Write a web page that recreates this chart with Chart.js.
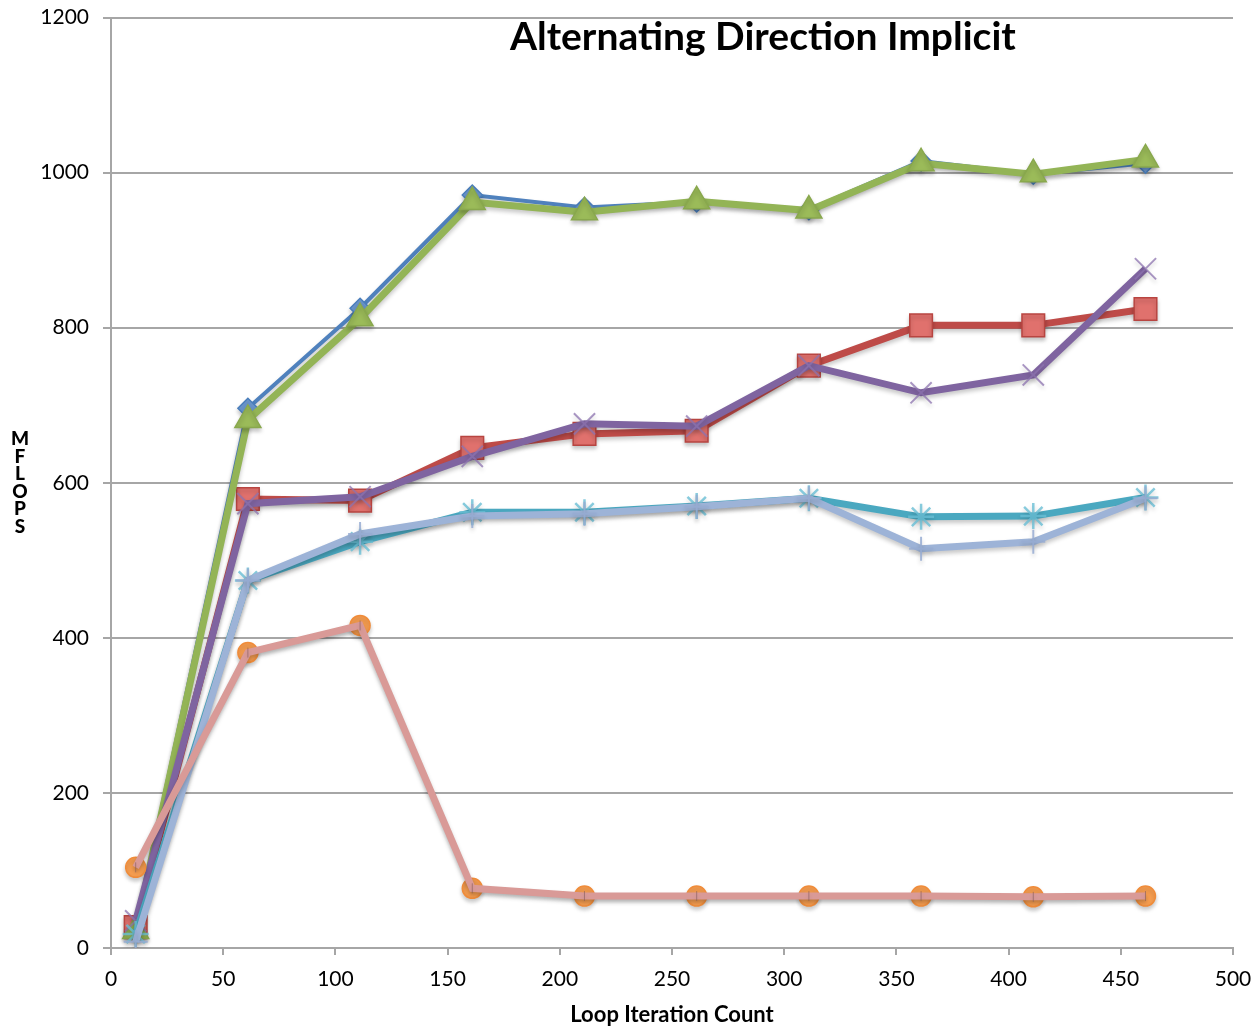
<!DOCTYPE html>
<html>
<head>
<meta charset="utf-8">
<title>Alternating Direction Implicit</title>
<script src="https://cdn.jsdelivr.net/npm/chart.js@4/dist/chart.umd.min.js"></script>
<style>
    html, body { margin: 0; padding: 0; background: #fff; }
    #wrap { width: 1257px; height: 1026px; }
</style>
</head>
<body>
<div id="wrap"><canvas id="adiChart" width="1257" height="1026"></canvas></div>
<script>
// loop iteration counts (x) and MFLOPS per run
const loopCounts = [11, 61, 111, 161, 211, 261, 311, 361, 411, 461];
const run1 = [25, 696, 825, 971, 955, 962, 952, 1015, 998, 1012];
const run2 = [27, 579, 577, 645, 663, 667, 751, 803, 803, 824];
const run3 = [22, 681, 812, 962, 949, 963, 951, 1012, 998, 1017];
const run4 = [35, 573, 582, 634, 676, 673, 751, 716, 739, 876];
const run5 = [18, 474, 524, 562, 562, 570, 580, 556, 557, 581];
const run6 = [104, 381, 416, 77, 67, 67, 67, 67, 66, 67];
const run7 = [8, 474, 534, 557, 560, 569, 580, 515, 524, 580];
const run8 = [104, 381, 416, 77, 67, 67, 67, 67, 66, 67];

const yTicks = [0, 200, 400, 600, 800, 1000, 1200];
const xTicks = [0, 50, 100, 150, 200, 250, 300, 350, 400, 450, 500];

const FONT = "Lato, 'Open Sans', sans-serif";
const AXIS_GREY = "#a6a6a6";

function series(label, values, line, opts) {
    return Object.assign({
        label: label,
        data: values.map((v, i) => ({ x: loopCounts[i], y: v })),
        borderColor: line,
        borderWidth: 7,
        fill: false,
        tension: 0,
        pointBorderWidth: 1.5
    }, opts);
}

const datasets = [
    series("Run 1", run1, "#4f81bd", { borderWidth: 4, pointStyle: "rectRot", pointRadius: 10, pointBackgroundColor: "#6f9bd3", pointBorderColor: "#4a7ebb" }),
    series("Run 2", run2, "#be4b48", { pointStyle: "rect", pointRadius: 16, pointBackgroundColor: "#e0716d", pointBorderColor: "#b84541" }),
    series("Run 3", run3, "#93b456", { pointStyle: "triangle", pointRadius: 15, pointBackgroundColor: "#9bbb59", pointBorderColor: "#89a84d" }),
    series("Run 4", run4, "#7f64a0", { pointStyle: "crossRot", pointRadius: 15, pointBorderWidth: 2, pointBorderColor: "rgba(140,115,175,0.75)" }),
    series("Run 5", run5, "#4aa8c0", { pointStyle: "star", pointRadius: 13, pointBorderWidth: 2.5, pointBorderColor: "rgba(105,190,212,0.8)" }),
    series("Run 6", run6, "#f79646", { borderWidth: 3, pointStyle: "circle", pointRadius: 10, pointBackgroundColor: "#f79e50", pointBorderColor: "#f08c3a" }),
    series("Run 7", run7, "#9db3d7", { pointStyle: "cross", pointRadius: 12, pointBorderWidth: 2, pointBorderColor: "rgba(150,172,210,0.85)" }),
    series("Run 8", run8, "#d99a97", { pointStyle: "line", rotation: 90, pointRadius: 5, pointBorderWidth: 1, pointBorderColor: "rgba(130,90,90,0.6)" })
];
// later runs paint over earlier ones
datasets.forEach((d, i) => { d.order = datasets.length - i; });

// soft drop shadow under the markers and lines
const shadowPlugin = {
    id: "shadow",
    beforeDatasetDraw(chart) {
        const ctx = chart.ctx;
        ctx.save();
        ctx.shadowColor = "rgba(0,0,0,0.22)";
        ctx.shadowBlur = 4;
        ctx.shadowOffsetY = 3;
    },
    afterDatasetDraw(chart) {
        chart.ctx.restore();
    }
};

// title sits inside the plot, and the y title is stacked letters
const labelsPlugin = {
    id: "labels",
    afterDraw(chart) {
        const ctx = chart.ctx;
        const area = chart.chartArea;
        ctx.save();
        ctx.fillStyle = "#000";
        ctx.textAlign = "center";
        ctx.textBaseline = "middle";
        ctx.font = "bold 39px " + FONT;
        ctx.fillText("Alternating Direction Implicit", area.left + (area.right - area.left) * 0.581, area.top + 20);

        ctx.font = "900 19px " + FONT;
        const letters = "MFLOPS".split("");
        const mid = (area.top + area.bottom) / 2;
        const step = 17.5;
        letters.forEach((ch, i) => {
            ctx.fillText(ch, 20, mid + (i - (letters.length - 1) / 2) * step);
        });
        ctx.restore();
    }
};

new Chart(document.getElementById("adiChart").getContext("2d"), {
    type: "line",
    data: { datasets: datasets },
    options: {
        responsive: false,
        animation: false,
        devicePixelRatio: 1,
        layout: { padding: { top: 17, right: 24, left: 0, bottom: 0 } },
        plugins: {
            legend: { display: false },
            tooltip: { enabled: false },
            title: { display: false }
        },
        scales: {
            x: {
                type: "linear",
                min: 0,
                max: 500,
                afterFit(scale) {
                    scale.height = 78;
                    scale.paddingLeft = 0;
                    scale.paddingRight = 0;
                },
                afterBuildTicks(scale) { scale.ticks = xTicks.map(v => ({ value: v })); },
                grid: { drawOnChartArea: false, drawTicks: true, tickLength: 7, color: AXIS_GREY, lineWidth: 2 },
                border: { color: AXIS_GREY, width: 2 },
                ticks: { color: "#000", padding: 12, maxRotation: 0, font: { family: FONT, size: 21 }, callback: v => String(v) },
                title: { display: true, text: "Loop Iteration Count", color: "#000", padding: { top: 4, bottom: 0 }, font: { family: FONT, size: 22, weight: "bold", lineHeight: 1.0 } }
            },
            y: {
                min: 0,
                max: 1200,
                afterFit(scale) {
                    scale.width = 111;
                    scale.paddingTop = 0;
                    scale.paddingBottom = 0;
                },
                afterBuildTicks(scale) { scale.ticks = yTicks.map(v => ({ value: v })); },
                grid: { drawOnChartArea: true, drawTicks: true, tickLength: 8, color: AXIS_GREY, lineWidth: 2 },
                border: { color: AXIS_GREY, width: 2 },
                ticks: { color: "#000", padding: 14, font: { family: FONT, size: 21 }, callback: v => String(v) }
            }
        }
    },
    plugins: [shadowPlugin, labelsPlugin]
});
</script>
</body>
</html>
